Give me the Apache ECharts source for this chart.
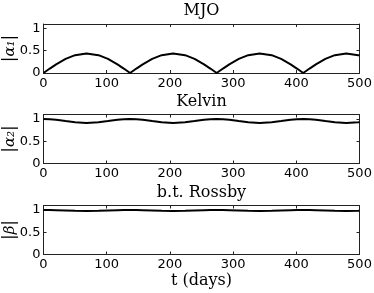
<!DOCTYPE html>
<html><head><meta charset="utf-8">
<script src="https://cdn.jsdelivr.net/npm/echarts@6/dist/echarts.min.js"></script>
<style>html,body{margin:0;padding:0;background:#fff}#c{width:374px;height:293px}</style>
</head><body><div id="c"></div>
<script>
const days = [0,10,20,35,50,68,87,102,117,127,
  137,147,157,172,187,205,224,239,254,264,
  274,284,294,309,324,342,361,376,391,401,
  411,421,431,446,461,479,498,500];
const mjo = [0,0.100,0.195,0.316,0.401,0.44,0.401,0.316,0.195,0.100,
  0,0.100,0.195,0.316,0.401,0.44,0.401,0.316,0.195,0.100,
  0,0.100,0.195,0.316,0.401,0.44,0.401,0.316,0.195,0.100,
  0,0.100,0.195,0.316,0.401,0.44,0.401,0.392];
const kelvin = [1.0,0.995,0.982,0.953,0.925,0.91,0.925,0.953,0.982,0.995,
  1.0,0.995,0.982,0.953,0.925,0.91,0.925,0.953,0.982,0.995,
  1.0,0.995,0.982,0.953,0.925,0.91,0.925,0.953,0.982,0.995,
  1.0,0.995,0.982,0.953,0.925,0.91,0.925,0.928];
const rossby = [1.0,0.999,0.995,0.988,0.981,0.977,0.981,0.988,0.995,0.999,
  1.0,0.999,0.995,0.988,0.981,0.977,0.981,0.988,0.995,0.999,
  1.0,0.999,0.995,0.988,0.981,0.977,0.981,0.988,0.995,0.999,
  1.0,0.999,0.995,0.988,0.981,0.977,0.981,0.982];
const titles = ['MJO', 'Kelvin', 'b.t. Rossby'];
const yNames = ['{b||}{g|α₁}{b||}', '{b||}{g|α₂}{b||}', '{b||}{g|β}{b||}'];
const xName = 't (days)';
const xMin = 0, xMax = 500, xStep = 100;
const yMin = 0, yMax = 1.1, yStep = 0.5;

const series_ = [mjo, kelvin, rossby];
const tops = [24, 114.5, 205.5];
const H = 49;
const L = 43.5, R = 14.5;
const axisColor = '#222';
const chart = echarts.init(document.getElementById('c'));

const grid = [], xAxis = [], yAxis = [], series = [], title = [];
for (let i = 0; i < 3; i++) {
  grid.push({left: L, right: R, top: tops[i], height: H, show: false,
    containLabel: false, outerBoundsMode: 'none'});
  const lineSt = {color: axisColor, width: 1};
  const baseX = {gridIndex: i, type: 'value', min: xMin, max: xMax, interval: xStep,
    axisLine: {show: true, onZero: false, lineStyle: lineSt},
    axisTick: {show: true, inside: true, length: 3, lineStyle: lineSt},
    splitLine: {show: false}};
  xAxis.push(Object.assign({}, baseX, {position: 'bottom',
    axisLabel: {show: true, fontFamily: 'DejaVu Sans', fontSize: 13, color: '#000', margin: 4},
    name: i === 2 ? xName : '', nameLocation: 'middle', nameGap: 16,
    nameTextStyle: {fontFamily: 'DejaVu Serif', fontSize: 16, color: '#000'}}));
  xAxis.push(Object.assign({}, baseX, {position: 'top', axisLabel: {show: false}}));
  const baseY = {gridIndex: i, type: 'value', min: yMin, max: yMax, interval: yStep,
    axisLine: {show: true, onZero: false, lineStyle: lineSt},
    axisTick: {show: true, inside: true, length: 3, lineStyle: lineSt},
    splitLine: {show: false}};
  yAxis.push(Object.assign({}, baseY, {position: 'left',
    axisLabel: {show: true, fontFamily: 'DejaVu Sans', fontSize: 13, color: '#000', margin: 3,
      showMaxLabel: false, formatter: v => (Math.abs(v - 0.5) < 1e-9 ? '0.5' : String(Math.round(v)))},
    name: yNames[i], nameLocation: 'middle', nameGap: 25, nameRotate: 90, nameMoveOverlap: false,
    nameTextStyle: {color: '#000', rich: {
      b: {fontFamily: 'DejaVu Serif', fontSize: 17, color: '#000'},
      g: {fontFamily: 'DejaVu Serif', fontStyle: 'italic', fontSize: 15, color: '#000'}}}}));
  yAxis.push(Object.assign({}, baseY, {position: 'right', axisLabel: {show: false}}));
  series.push({type: 'line', xAxisIndex: 2 * i, yAxisIndex: 2 * i,
    data: days.map((d, k) => [d, series_[i][k]]),
    showSymbol: false, smooth: false, clip: true, animation: false,
    lineStyle: {color: '#000', width: 2}});
  title.push({text: titles[i], left: L + (374 - L - R) / 2, textAlign: 'center',
    top: tops[i] - 21, padding: 0,
    textStyle: {fontFamily: 'DejaVu Serif', fontSize: 16, fontWeight: 'normal', color: '#000'}});
}
chart.setOption({animation: false, backgroundColor: '#fff', title, grid, xAxis, yAxis, series});
</script>
</body></html>
